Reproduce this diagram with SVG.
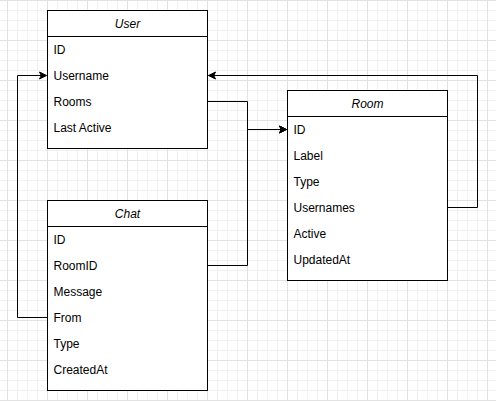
<svg xmlns="http://www.w3.org/2000/svg" width="496" height="401" viewBox="0 0 496 401">
<style>
.box{fill:#ffffff;stroke:#000000;stroke-width:1}
.sep{stroke:#000000;stroke-width:1;fill:none}
.title{font-family:"Liberation Sans",Arial,sans-serif;font-size:12px;font-style:italic;fill:#000000;text-anchor:middle}
.row{font-family:"Liberation Sans",Arial,sans-serif;font-size:12px;fill:#000000}
.edge{fill:none;stroke:#000000;stroke-width:1}
</style>
<defs>
<pattern id="minor" patternUnits="userSpaceOnUse" x="7" y="0" width="10" height="10">
<path d="M0,0.5H10M0.5,0V10" stroke="#f1f1f1" stroke-width="1" fill="none"/>
</pattern>
<pattern id="major" patternUnits="userSpaceOnUse" x="7" y="0" width="40" height="40">
<path d="M0,0.5H40M0.5,0V40" stroke="#e2e2e2" stroke-width="1" fill="none"/>
</pattern>
<marker id="arrow" markerUnits="userSpaceOnUse" markerWidth="10" markerHeight="10" viewBox="-8 -5 10 10" refX="0" refY="0" orient="auto">
<path d="M0,0L-7,-3.5L-5.25,0L-7,3.5Z" fill="#000000" stroke="#000000" stroke-width="1"/>
</marker>
</defs>
<rect width="496" height="401" fill="#ffffff"/>
<rect width="496" height="401" fill="url(#minor)"/>
<rect width="496" height="401" fill="url(#major)"/>

<g id="connectors">
<path class="edge" d="M447.5,207.5H477.5V75.5H208.5" marker-end="url(#arrow)"/>
<path class="edge" d="M207.5,101.5H247.5V129.5H286.5" marker-end="url(#arrow)"/>
<path class="edge" d="M207.5,265.5H247.5V129.5H286.5" marker-end="url(#arrow)"/>
<path class="edge" d="M47.5,317.5H17.5V75.5H46.5" marker-end="url(#arrow)"/>
</g>

<g id="user">
<rect class="box" x="47.5" y="10.5" width="160" height="138"/>
<path class="sep" d="M47.5,36.5H207.5"/>
<text class="title" x="127.5" y="27.5">User</text>
<text class="row" x="53.5" y="53.5">ID</text>
<text class="row" x="53.5" y="79.5">Username</text>
<text class="row" x="53.5" y="105.5">Rooms</text>
<text class="row" x="53.5" y="131.5">Last Active</text>
</g>

<g id="room">
<rect class="box" x="287.5" y="90.5" width="160" height="190"/>
<path class="sep" d="M287.5,116.5H447.5"/>
<text class="title" x="367.5" y="107.5">Room</text>
<text class="row" x="293.5" y="133.5">ID</text>
<text class="row" x="293.5" y="159.5">Label</text>
<text class="row" x="293.5" y="185.5">Type</text>
<text class="row" x="293.5" y="211.5">Usernames</text>
<text class="row" x="293.5" y="237.5">Active</text>
<text class="row" x="293.5" y="263.5">UpdatedAt</text>
</g>

<g id="chat">
<rect class="box" x="47.5" y="200.5" width="160" height="190"/>
<path class="sep" d="M47.5,226.5H207.5"/>
<text class="title" x="127.5" y="217.5">Chat</text>
<text class="row" x="53.5" y="243.5">ID</text>
<text class="row" x="53.5" y="269.5">RoomID</text>
<text class="row" x="53.5" y="295.5">Message</text>
<text class="row" x="53.5" y="321.5">From</text>
<text class="row" x="53.5" y="347.5">Type</text>
<text class="row" x="53.5" y="373.5">CreatedAt</text>
</g>
</svg>
